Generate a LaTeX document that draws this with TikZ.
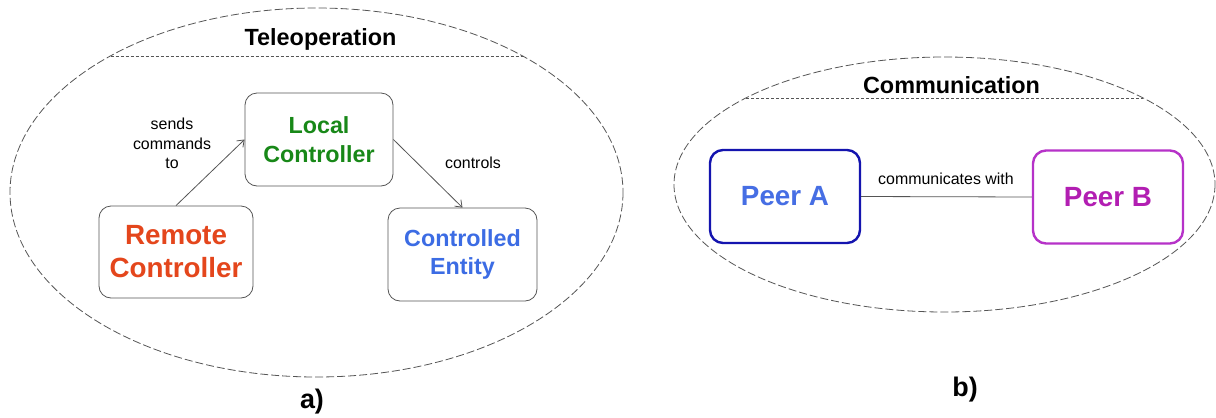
\documentclass[tikz,border=0pt]{standalone}
\usepackage{fontspec}
\setmainfont{Liberation Sans}
\usetikzlibrary{arrows.meta}
\definecolor{remotec}{RGB}{228,70,28}
\definecolor{localc}{RGB}{24,136,24}
\definecolor{entityc}{RGB}{60,108,228}
\definecolor{peerAtext}{RGB}{70,110,228}
\definecolor{peerAline}{RGB}{20,20,175}
\definecolor{peerBtext}{RGB}{178,30,178}
\definecolor{peerBline}{RGB}{182,50,200}
\definecolor{linegray}{RGB}{85,85,85}
\begin{document}
\begin{tikzpicture}[x=1bp,y=-1bp,
  box/.style={draw=linegray, line width=0.8bp, rounded corners=12bp, inner sep=0pt, align=center,
              font=\bfseries\fontsize{23.4}{28.5}\selectfont},
  bigbox/.style={box, font=\bfseries\fontsize{27.9}{33}\selectfont},
  peerbox/.style={draw, line width=2.4bp, rounded corners=13bp, inner sep=0pt,
              minimum width=150bp, minimum height=93bp, font=\bfseries\fontsize{27.9}{33}\selectfont},
  lbl/.style={inner sep=0pt, align=center, font=\fontsize{16}{19.5}\selectfont},
  titletext/.style={inner sep=0pt, anchor=base, font=\bfseries\fontsize{23.5}{28}\selectfont},
  subcap/.style={inner sep=0pt, anchor=base, font=\bfseries\fontsize{27}{32}\selectfont},
  scopeline/.style={draw=linegray, line width=0.8bp, dash pattern=on 8bp off 3bp},
  sepline/.style={draw=linegray, line width=0.8bp, dash pattern=on 3bp off 2bp},
  conn/.style={draw=linegray, line width=0.8bp},
  arr/.style={conn, -{Straight Barb[length=6bp,width=9bp]}}
]
\useasboundingbox[fill=white] (0,0) rectangle (1216,417);

% (a) Teleoperation
\draw[scopeline] (316.5,192.5) ellipse [x radius=306.5, y radius=184.5];
\coordinate (ta1) at (110.5,56);
\coordinate (ta2) at (522.5,56);
\draw[sepline] (ta1) -- (ta2);
\node[titletext] (tele) at (320.5,45) {Teleoperation};

\node[box, minimum width=148bp, minimum height=93bp, text=localc] (local) at (319,139.5) {Local\\Controller};
\node[bigbox, minimum width=154bp, minimum height=92bp, text=remotec] (remote) at (176,252) {Remote\\Controller};
\node[box, minimum width=149bp, minimum height=93bp, text=entityc] (entity) at (462.5,254.5) {Controlled\\Entity};

\draw[arr] (remote.north) -- (local.west);
\draw[arr] (local.east) -- (entity.north);
\node[lbl] (sends) at (172,143.5) {sends\\commands\\to};
\node[lbl, anchor=base] (controls) at (473,168) {controls};

\node[subcap] (capa) at (312,408) {a)};

% (b) Communication
\draw[scopeline] (944.5,184.5) ellipse [x radius=270.5, y radius=127.5];
\coordinate (tb1) at (746,98);
\coordinate (tb2) at (1143,98);
\draw[sepline] (tb1) -- (tb2);
\node[titletext] (comm) at (951.5,93) {Communication};

\node[peerbox, draw=peerAline, text=peerAtext] (peerA) at (785,196.5) {Peer A};
\node[peerbox, draw=peerBline, text=peerBtext] (peerB) at (1108,197) {Peer B};
\draw[conn] (peerA.east) -- (peerB.west);
\node[lbl, anchor=base] (commwith) at (946,184) {communicates with};

\node[subcap] (capb) at (965,396) {b)};
\end{tikzpicture}
\end{document}
